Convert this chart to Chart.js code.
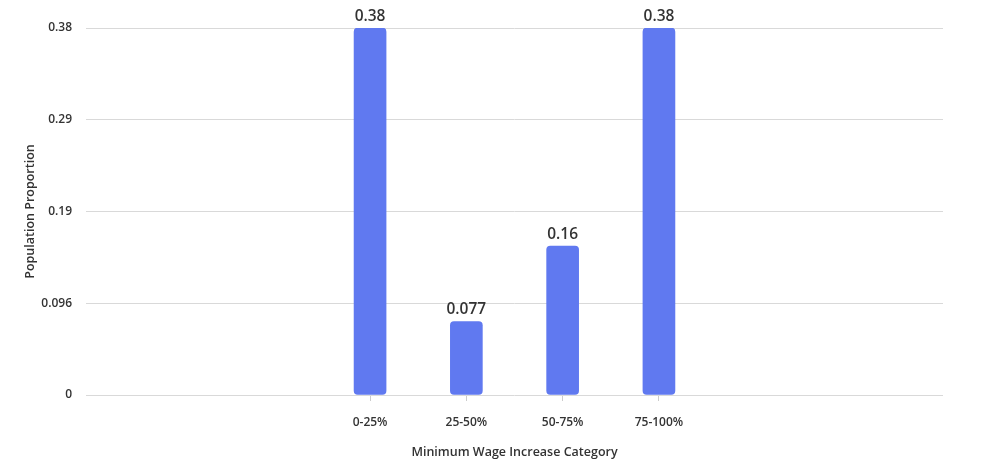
<!DOCTYPE html>
<html>
<head>
<meta charset="utf-8">
<script src="https://cdn.jsdelivr.net/npm/chart.js@4.4.1/dist/chart.umd.min.js"></script>
<style>
  html, body { margin: 0; padding: 0; background: #fff; }
  #wrap { width: 1000px; height: 468px; }
</style>
</head>
<body>
<div id="wrap"><canvas id="wageChart"></canvas></div>
<script>
// data
const categories = ['0-25%', '25-50%', '50-75%', '75-100%'];
const proportions = [0.3846, 0.0769, 0.156, 0.3846];
const yTickValues = [0, 0.09615, 0.1923, 0.28845, 0.3846];
const yTickLabels = ['0', '0.096', '0.19', '0.29', '0.38'];

const FONT = "'Open Sans', 'Noto Sans', sans-serif";

// value labels above each bar
const barLabels = {
  id: 'barLabels',
  afterDatasetsDraw(chart) {
    const ctx = chart.ctx;
    const meta = chart.getDatasetMeta(0);
    ctx.save();
    ctx.font = '600 15.5px ' + FONT;
    ctx.fillStyle = '#333333';
    ctx.textAlign = 'center';
    ctx.textBaseline = 'bottom';
    meta.data.forEach(function (bar, i) {
      ctx.fillText(proportions[i].toPrecision(2), bar.x, bar.y - 4);
    });
    ctx.restore();
  }
};

const ctx = document.getElementById('wageChart').getContext('2d');
new Chart(ctx, {
  type: 'bar',
  data: {
    datasets: [{
      data: categories.map(function (c, i) { return { x: i, y: proportions[i] }; }),
      backgroundColor: '#6079f0',
      borderRadius: 4,
      borderSkipped: false,
      barThickness: 32
    }]
  },
  options: {
    responsive: true,
    maintainAspectRatio: false,
    animation: false,
    layout: { padding: { top: 28, right: 57, left: 0, bottom: 0 } },
    plugins: {
      legend: { display: false },
      tooltip: { enabled: false }
    },
    scales: {
      x: {
        type: 'linear',
        offset: false,
        min: -2.95,
        max: 5.95,
        afterBuildTicks: function (scale) {
          scale.ticks = categories.map(function (c, i) { return { value: i }; });
        },
        afterFit: function (scale) { scale.height = 73; },
        ticks: {
          autoSkip: false,
          maxRotation: 0,
          padding: 14,
          color: '#333333',
          font: { family: FONT, size: 12, weight: '600' },
          callback: function (value) { return categories[value] || ''; }
        },
        grid: {
          offset: false,
          drawOnChartArea: false,
          drawTicks: true,
          tickLength: 6,
          color: '#cccccc'
        },
        border: { display: false },
        title: {
          display: true,
          text: 'Minimum Wage Increase Category',
          color: '#333333',
          font: { family: FONT, size: 12.5, weight: '600' },
          padding: { top: 0, bottom: 8 }
        }
      },
      y: {
        min: 0,
        max: 0.3846,
        afterBuildTicks: function (scale) {
          scale.ticks = yTickValues.map(function (v) { return { value: v }; });
        },
        afterFit: function (scale) { scale.width = 86; },
        ticks: {
          padding: 14,
          color: '#333333',
          font: { family: FONT, size: 12, weight: '600' },
          callback: function (value, index) { return yTickLabels[index]; }
        },
        grid: {
          color: '#d9d9d9',
          drawTicks: false
        },
        border: { display: false },
        title: {
          display: true,
          text: 'Population Proportion',
          color: '#333333',
          font: { family: FONT, size: 12.5, weight: '600' },
          padding: { top: 23, bottom: 0 }
        }
      }
    }
  },
  plugins: [barLabels]
});
</script>
</body>
</html>
